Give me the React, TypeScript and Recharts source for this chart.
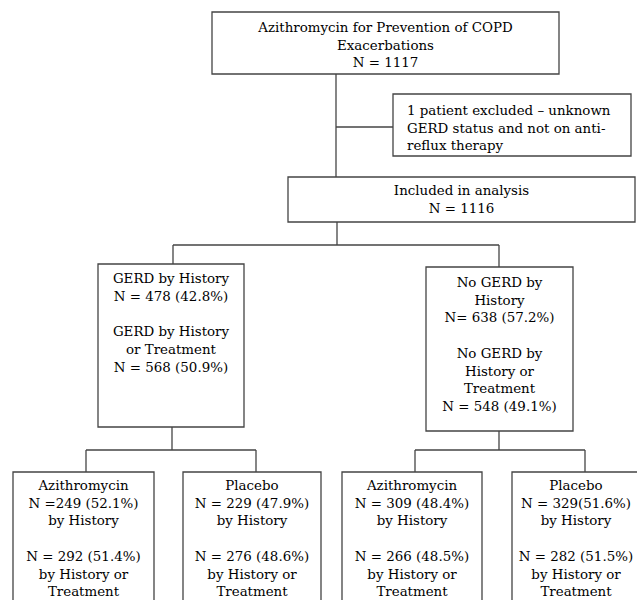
import React from "react";
import { ComposedChart, XAxis, YAxis, ReferenceArea, ReferenceLine } from "recharts";

// ---- content ----
const topLines = ["Azithromycin for Prevention of COPD", "Exacerbations", "N = 1117"];
const exclusionLines = ["1 patient excluded – unknown", "GERD status and not on anti-", "reflux therapy"];
const includedLines = ["Included in analysis", "N = 1116"];
const gerdLines = ["GERD by History", "N = 478 (42.8%)", "", "GERD by History", "or Treatment", "N = 568 (50.9%)"];
const noGerdLines = ["No GERD by", "History", "N= 638 (57.2%)", "", "No GERD by", "History or", "Treatment", "N = 548 (49.1%)"];
const gerdAzithroLines = ["Azithromycin", "N =249 (52.1%)", "by History", "", "N = 292 (51.4%)", "by History or", "Treatment"];
const gerdPlaceboLines = ["Placebo", "N = 229 (47.9%)", "by History", "", "N = 276 (48.6%)", "by History or", "Treatment"];
const noGerdAzithroLines = ["Azithromycin", "N = 309 (48.4%)", "by History", "", "N = 266 (48.5%)", "by History or", "Treatment"];
const noGerdPlaceboLines = ["Placebo", "N = 329(51.6%)", "by History", "", "N = 282 (51.5%)", "by History or", "Treatment"];

// ---- layout (separate from content) ----
type Box = { lines: string[]; x1: number; x2: number; y1: number; y2: number; align?: "left" | "center"; top: number; cx?: number };
const boxes: Box[] = [
  { lines: topLines, x1: 212, x2: 559, y1: 12, y2: 74, top: 20 },
  { lines: exclusionLines, x1: 393, x2: 631, y1: 94, y2: 156, top: 21, align: "left" },
  { lines: includedLines, x1: 288, x2: 635, y1: 177, y2: 222, top: 18 },
  { lines: gerdLines, x1: 98, x2: 244, y1: 264, y2: 427, top: 19 },
  { lines: noGerdLines, x1: 426, x2: 573, y1: 267, y2: 431, top: 20 },
  { lines: gerdAzithroLines, x1: 13, x2: 154, y1: 472, y2: 620, top: 18 },
  { lines: gerdPlaceboLines, x1: 183, x2: 321, y1: 472, y2: 620, top: 18 },
  { lines: noGerdAzithroLines, x1: 342, x2: 482, y1: 472, y2: 620, top: 18 },
  { lines: noGerdPlaceboLines, x1: 512, x2: 660, y1: 472, y2: 620, top: 18, cx: 576 },
];

const connectors: [number, number, number, number][] = [
  [336, 74, 336, 177],
  [336, 127, 393, 127],
  [337, 222, 337, 245],
  [173, 245, 499, 245],
  [173, 245, 173, 264],
  [499, 245, 499, 267],
  [172, 427, 172, 450],
  [86, 450, 256, 450],
  [86, 450, 86, 472],
  [256, 450, 256, 472],
  [499, 431, 499, 450],
  [415, 450, 585, 450],
  [415, 450, 415, 472],
  [585, 450, 585, 472],
];

const W = 637;
const H = 600;
const LINE_H = 17.7;
const FONT = "'DejaVu Serif', serif";
const STROKE = "#444";

function makeLabel(box: Box) {
  return (props: any) => {
    const vb = props.viewBox || {};
    const x = vb.x ?? 0;
    const y = vb.y ?? 0;
    const w = vb.width ?? 0;
    const left = box.align === "left";
    const tx = left ? x + 14 : box.cx !== undefined ? x + (box.cx - box.x1) : x + w / 2;
    return (
      <text
        x={tx}
        y={y + box.top}
        textAnchor={left ? "start" : "middle"}
        fontFamily={FONT}
        fontSize={13.4}
        fill="#000"
      >
        {box.lines.map((l, i) => (
          <tspan key={i} x={tx} y={y + box.top + i * LINE_H}>
            {l}
          </tspan>
        ))}
      </text>
    );
  };
}

export default function App() {
  return (
    <div style={{ position: "absolute", left: 0, top: 0, width: W, height: H, background: "#fff" }}>
      <ComposedChart width={W} height={H} margin={{ top: 0, right: 0, bottom: 0, left: 0 }} data={[{ x: 0, y: 0 }]}>
        <XAxis type="number" dataKey="x" domain={[0, W]} allowDataOverflow hide />
        <YAxis type="number" dataKey="y" domain={[0, H]} allowDataOverflow reversed hide />
        {connectors.map((c, i) => (
          <ReferenceLine
            key={"c" + i}
            segment={[{ x: c[0], y: c[1] }, { x: c[2], y: c[3] }]}
            stroke={STROKE}
            strokeWidth={1.3}
            ifOverflow="visible"
          />
        ))}
        {boxes.map((b, i) => (
          <ReferenceArea
            key={"b" + i}
            x1={b.x1}
            x2={b.x2}
            y1={b.y1}
            y2={b.y2}
            fill="#ffffff"
            fillOpacity={1}
            stroke={STROKE}
            strokeWidth={1.3}
            ifOverflow="hidden"
            label={{ content: makeLabel(b) }}
          />
        ))}
      </ComposedChart>
    </div>
  );
}
